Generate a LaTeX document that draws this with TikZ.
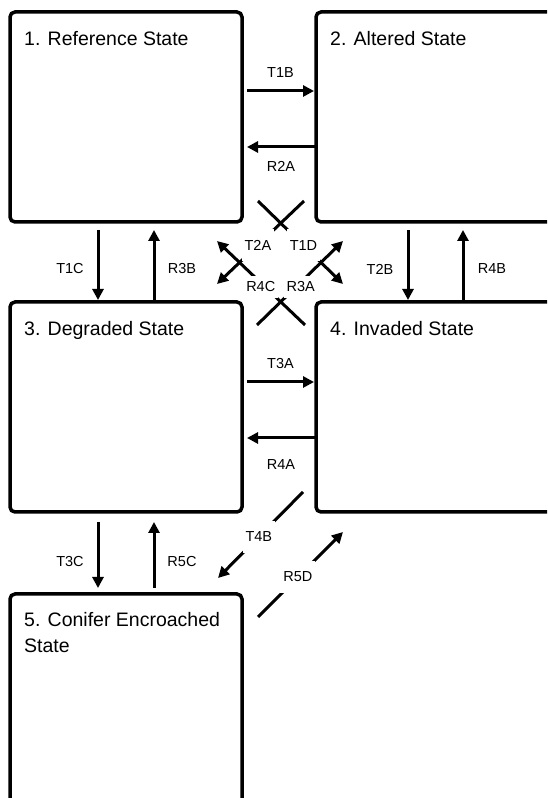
\documentclass[tikz,border=0pt]{standalone}
\usepackage{fontspec}
\setmainfont{Liberation Sans}
\usetikzlibrary{arrows.meta,positioning}

\begin{document}
\begin{tikzpicture}[x=1pt, y=1pt,
    state/.style={draw, line width=3.5pt, rounded corners=5pt, outer sep=0pt, inner sep=0pt, minimum width=232pt, minimum height=210pt},
    title/.style={anchor=north west, inner sep=0pt, align=left, font=\fontsize{19.5}{26}\selectfont},
    arr/.style={line width=3pt, -{Triangle[length=11pt, width=11pt]}},
    lab/.style={font=\fontsize{14.5}{17}\selectfont, inner sep=0pt},
    xlab/.style={lab, fill=white, inner xsep=3pt, inner ysep=11pt}]
	% 1. 画布 (右侧和底部被裁掉)
	\useasboundingbox (0,0) rectangle (547,798);
	\clip (0,0) rectangle (547,798);
	
	% 2. 状态框
	\node[state] (b1) at (126,681) {};
	\node[state, minimum width=240pt, right=74pt of b1] (b2) {};
	\node[state, below=80pt of b1] (b3) {};
	\node[state, minimum width=240pt, below=80pt of b2] (b4) {};
	\node[state, minimum height=230pt, below=82pt of b3] (b5) {};
	
	% 3. 标题
	\node[title] (t1) at ([shift={(14,-19)}]b1.north west) {1. Reference State};
	\node[title] (t2) at ([shift={(14,-19)}]b2.north west) {2. Altered State};
	\node[title] (t3) at ([shift={(14,-19)}]b3.north west) {3. Degraded State};
	\node[title] (t4) at ([shift={(14,-19)}]b4.north west) {4. Invaded State};
	\node[title] (t5) at ([shift={(14,-18)}]b5.north west) {5. Conifer Encroached\\State};
	
	% 4. 水平箭头
	\draw[arr] ([shift={(5,26)}]b1.east) -- ([shift={(-2,26)}]b2.west) node[lab, midway, yshift=18pt] (lT1B) {T1B};
	\draw[arr] ([shift={(-1,-30)}]b2.west) -- ([shift={(5,-30)}]b1.east) node[lab, midway, yshift=-19pt] (lR2A) {R2A};
	\draw[arr] ([shift={(5,25)}]b3.east) -- ([shift={(-2,25)}]b4.west) node[lab, midway, yshift=18pt] (lT3A) {T3A};
	\draw[arr] ([shift={(-1,-31)}]b4.west) -- ([shift={(5,-31)}]b3.east) node[lab, midway, yshift=-27pt] (lR4A) {R4A};
	
	% 5. 竖直箭头
	\draw[arr] ([shift={(-28,-8)}]b1.south) -- ([shift={(-28,2)}]b3.north) node[lab, midway, xshift=-28pt, yshift=-4pt] (lT1C) {T1C};
	\draw[arr] ([shift={(28,2)}]b3.north) -- ([shift={(28,-8)}]b1.south) node[lab, midway, xshift=28pt, yshift=-4pt] (lR3B) {R3B};
	\draw[arr] ([shift={(-28,-8)}]b2.south) -- ([shift={(-28,2)}]b4.north) node[lab, midway, xshift=-28pt, yshift=-4pt] (lT2B) {T2B};
	\draw[arr] ([shift={(27,2)}]b4.north) -- ([shift={(27,-8)}]b2.south) node[lab, midway, xshift=29pt, yshift=-4pt] (lR4B) {R4B};
	\draw[arr] ([shift={(-28,-10)}]b3.south) -- ([shift={(-28,6)}]b5.north) node[lab, midway, xshift=-28pt, yshift=-7pt] (lT3C) {T3C};
	\draw[arr] ([shift={(28,6)}]b5.north) -- ([shift={(28,-10)}]b3.south) node[lab, midway, xshift=28pt, yshift=-7pt] (lR5C) {R5C};
	
	% 6. 斜向箭头 (标签白底遮挡)
	\draw[arr] ([shift={(16,21)}]b1.south east) -- ([shift={(27,18)}]b4.north west) node[xlab, pos=0.535] (lT1D) {T1D};
	\draw[arr] ([shift={(-12,21)}]b2.south west) -- ([shift={(-25,18)}]b3.north east) node[xlab, pos=0.53] (lT2A) {T2A};
	\draw[arr] ([shift={(-11,-23)}]b4.north west) -- ([shift={(-25,-19)}]b1.south east) node[xlab, inner ysep=6pt, pos=0.48, xshift=-2pt, yshift=-2pt] (lR4C) {R4C};
	\draw[arr] ([shift={(15,-23)}]b3.north east) -- ([shift={(27,-19)}]b2.south west) node[xlab, inner ysep=6pt, pos=0.48, xshift=2.5pt, yshift=-2pt] (lR3A) {R3A};
	\draw[arr] ([shift={(-13,20)}]b4.south west) -- ([shift={(-24,16)}]b5.north east) node[xlab, pos=0.52] (lT4B) {T4B};
	\draw[arr] ([shift={(16,-23)}]b5.north east) -- ([shift={(27,-20)}]b4.south west) node[xlab, pos=0.47] (lR5D) {R5D};
\end{tikzpicture}
\end{document}
